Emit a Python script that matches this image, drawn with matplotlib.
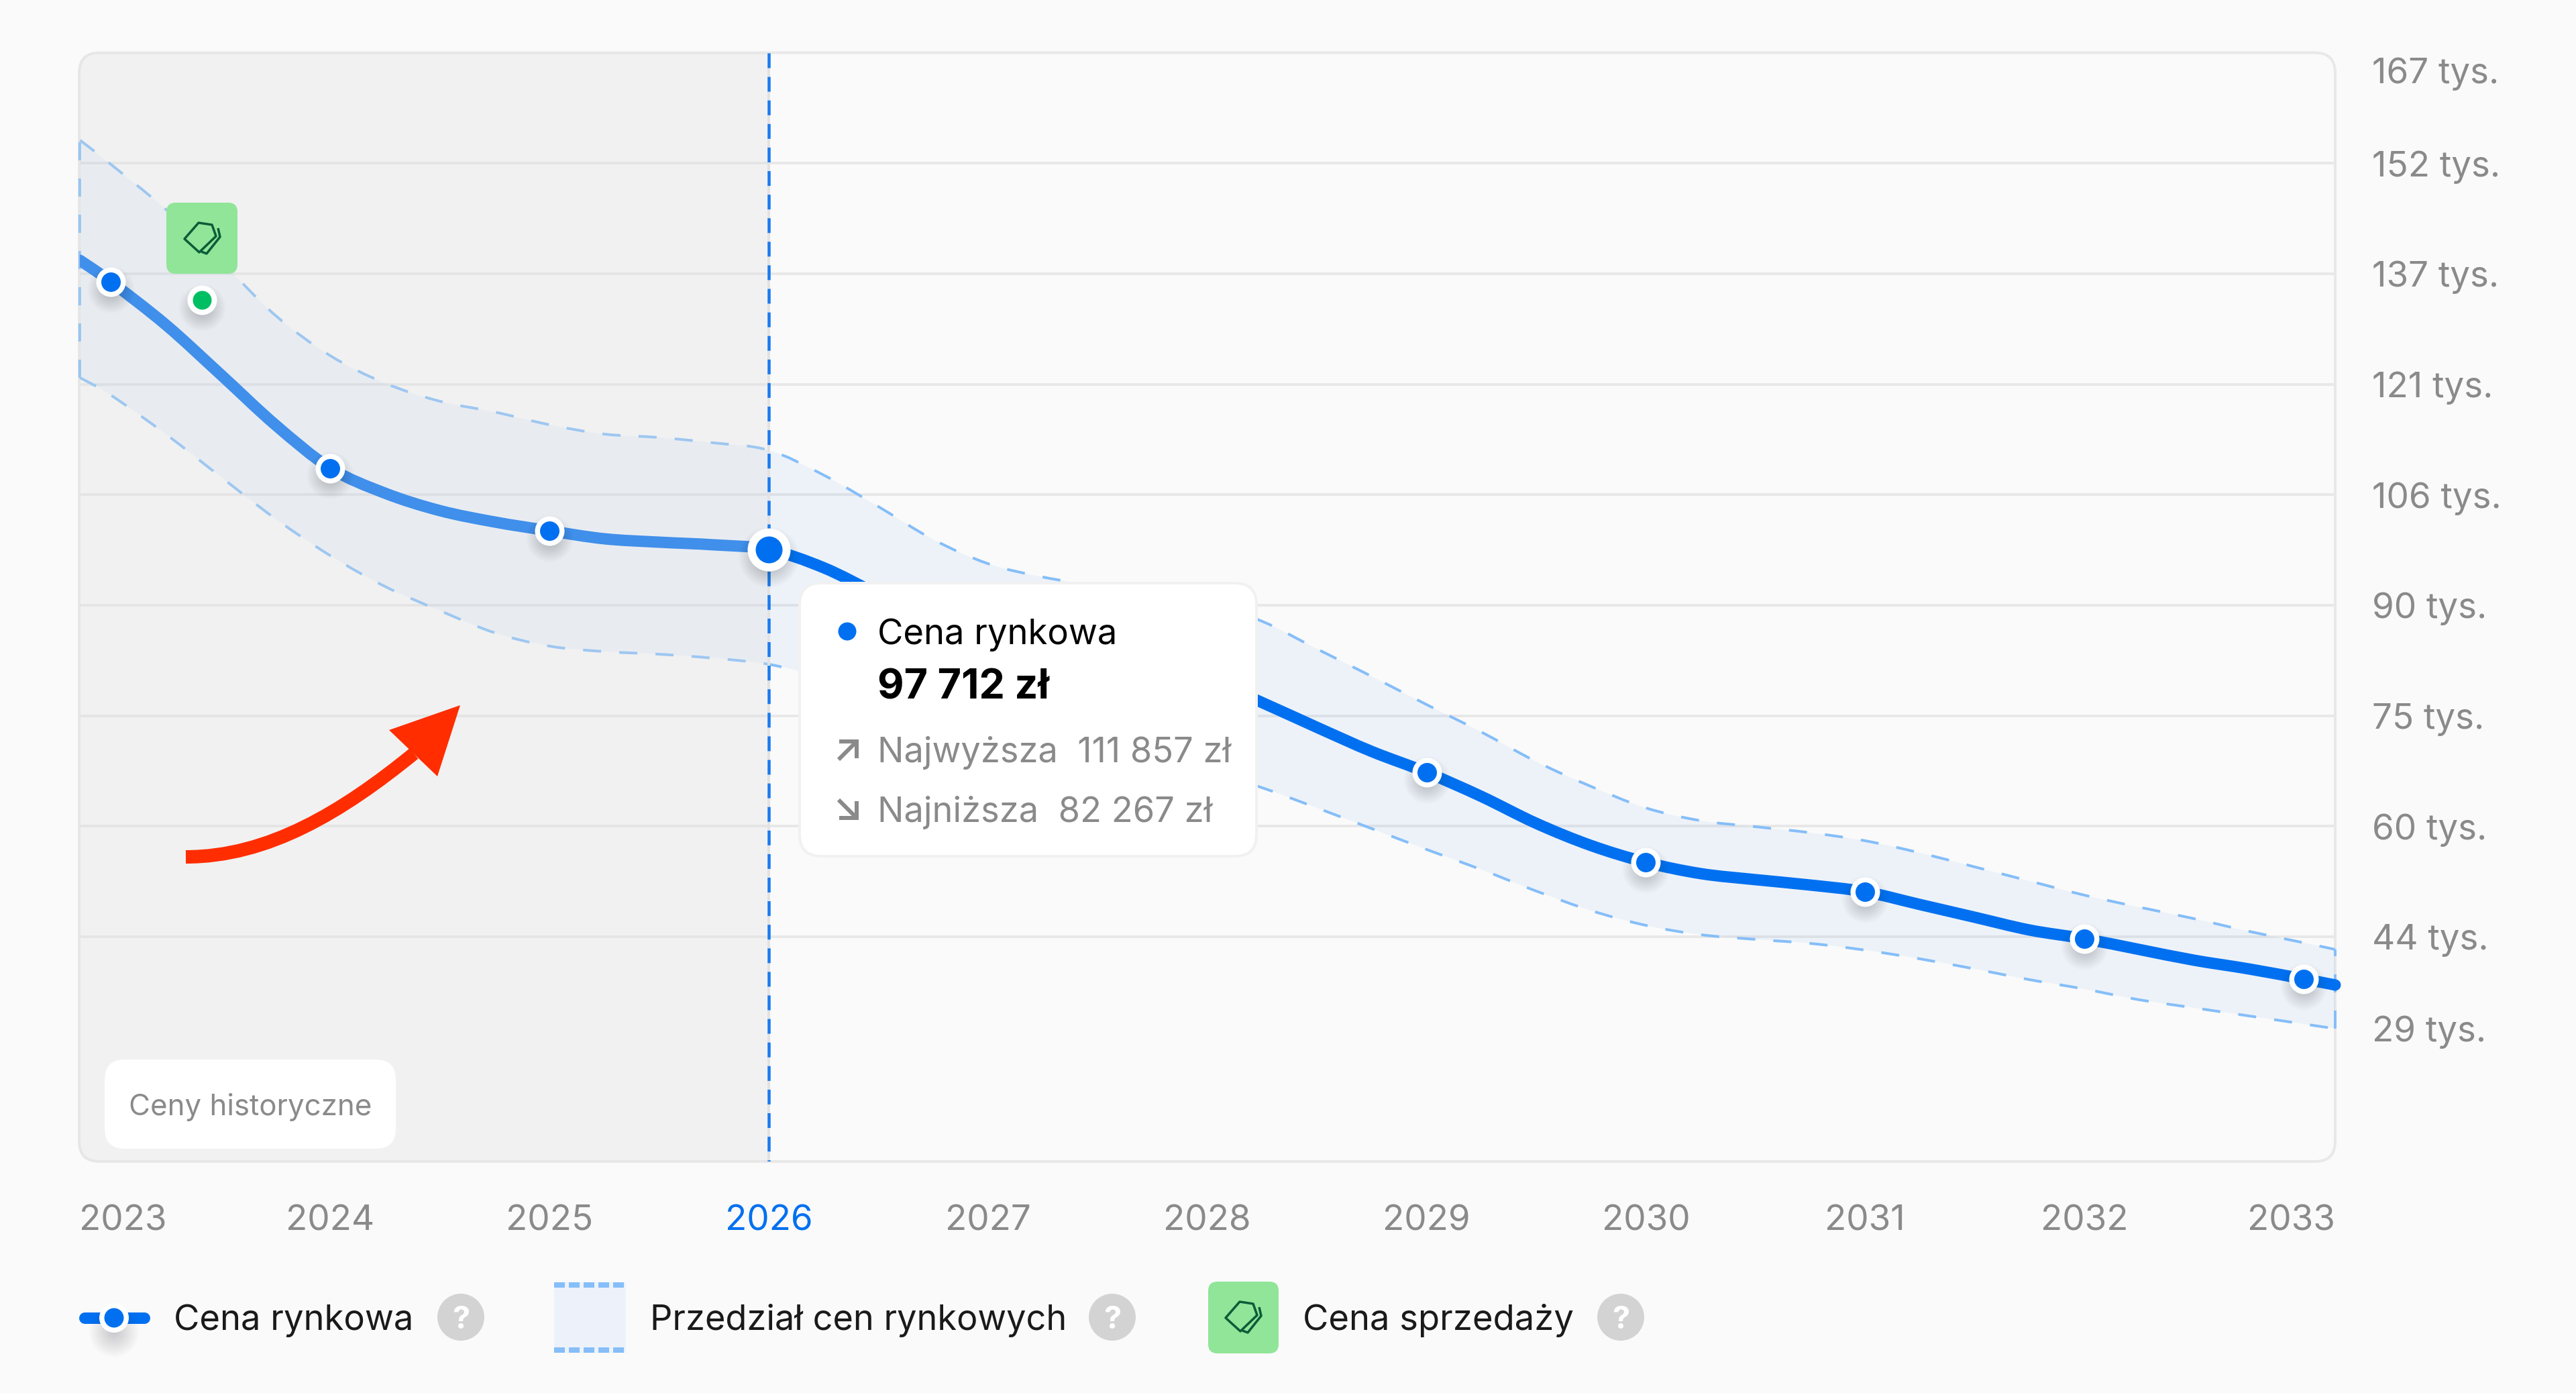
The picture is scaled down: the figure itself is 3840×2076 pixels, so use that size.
# %% imports
import numpy as np
import matplotlib
matplotlib.use("Agg")
import matplotlib.pyplot as plt
from matplotlib.patches import FancyBboxPatch, PathPatch, Polygon, Rectangle, Circle
from matplotlib.path import Path
from matplotlib.transforms import Affine2D

plt.rcParams['font.family'] = ['Inter', 'DejaVu Sans']

# %% data, prices in thousands of zl
years = [2022.859, 2023, 2023.25, 2023.5, 2023.75, 2024, 2024.25, 2024.5, 2024.75,
         2025, 2025.25, 2025.5, 2025.75, 2026, 2026.25, 2026.5, 2026.75,
         2027, 2027.25, 2027.5, 2027.75, 2028, 2028.25, 2028.5, 2028.75,
         2029, 2029.25, 2029.5, 2029.75, 2030, 2030.25, 2030.5, 2030.75,
         2031, 2031.25, 2031.5, 2031.75, 2032, 2032.25, 2032.5, 2032.75,
         2033, 2033.144]
market = [138.43, 135.46, 129.50, 122.60, 115.60, 109.61, 106.12, 103.70, 102.12,
          100.90, 99.79, 99.32, 98.95, 98.30, 95.78, 92.06, 88.43,
          86.10, 84.51, 83.21, 82.00, 80.32, 77.06, 73.62, 70.27,
          67.38, 64.03, 60.30, 57.22, 54.90, 53.32, 52.48, 51.73,
          50.80, 49.03, 47.26, 45.49, 44.28, 42.79, 41.30, 40.09,
          38.70, 37.86]
upper = [155.11, 151.75, 145.51, 138.34, 130.80, 125.21, 121.39, 118.88, 117.39,
         115.62, 114.32, 113.85, 113.10, 112.08, 108.64, 104.26, 99.69,
         96.34, 94.48, 93.27, 92.43, 90.85, 88.34, 84.51, 80.69,
         76.78, 72.97, 68.87, 65.42, 62.44, 60.67, 59.83, 59.00,
         57.88, 56.20, 54.25, 52.29, 50.33, 48.66, 47.07, 45.31,
         43.73, 42.79]
lower = [122.14, 119.72, 114.32, 108.40, 102.58, 97.46, 93.17, 89.82, 86.75,
         84.89, 84.14, 83.77, 83.21, 82.37, 80.51, 78.37, 76.32,
         74.18, 72.41, 70.82, 69.24, 67.56, 65.24, 62.44, 59.56,
         56.67, 53.88, 50.90, 48.19, 46.14, 44.84, 44.19, 43.63,
         42.70, 41.49, 40.09, 38.60, 37.30, 35.81, 34.69, 33.57,
         32.45, 31.80]
point_years = [2023, 2024, 2025, 2027, 2028, 2029, 2030, 2031, 2032, 2033]
current_year = 2026
sale_year = [2023.416]
sale_price = [132.94]

grid_values = [151.9, 136.6, 121.2, 105.9, 90.6, 75.2, 59.9, 44.6]
ytick_values = [164.8, 151.9, 136.6, 121.2, 105.9, 90.6, 75.2, 59.9, 44.6, 31.8]
ytick_labels = ['167 tys.', '152 tys.', '137 tys.', '121 tys.', '106 tys.',
                '90 tys.', '75 tys.', '60 tys.', '44 tys.', '29 tys.']
xtick_values = [2022.855, 2024, 2025, 2026, 2027, 2028, 2029, 2030, 2031, 2032, 2033.144]
xtick_labels = ['2023', '2024', '2025', '2026', '2027', '2028', '2029', '2030',
                '2031', '2032', '2033']

# %% colours
BG = '#FAFAFA'
BLUE = '#0070F0'
DASH = '#85BEF8'
GRID = '#E8E8E8'
GREY = '#8A8A8A'
INK = '#1A1A1A'
GREEN_BOX = '#90E598'
GREEN_DOT = '#00BF63'
GREEN_INK = '#0B5C38'
RED = '#FF2D00'

# %% figure, one point is 1/0.72 px at dpi 100
W, H = 3840, 2076
fig = plt.figure(figsize=(W / 100, H / 100), dpi=100, facecolor=BG)
px = Affine2D().scale(1, -1).translate(0, H)  # reference pixels, y down


def pt(p):
    return p * 0.72


L, R, T, B = 118, 3481, 78.6, 1731
ax = fig.add_axes([L / W, 1 - B / H, (R - L) / W, (B - T) / H], facecolor='none')
ax.set_xlim(2022.859, 2033.144)
ax.set_ylim(13.36, 167.25)
for s in ax.spines.values():
    s.set_visible(False)


def smooth(x, y):
    # catmull-rom through the read values, only to round the corners
    x, y = np.asarray(x), np.asarray(y)
    verts = [(x[0], y[0])]
    codes = [Path.MOVETO]
    n = len(x)
    for i in range(n - 1):
        a, b, c, d = max(i - 1, 0), i, i + 1, min(i + 2, n - 1)
        verts.append((x[b] + (x[c] - x[a]) / 6, y[b] + (y[c] - y[a]) / 6))
        verts.append((x[c] - (x[d] - x[b]) / 6, y[c] - (y[d] - y[b]) / 6))
        verts.append((x[c], y[c]))
        codes += [Path.CURVE4] * 3
    return Path(verts, codes)


def rbox(x0, y0, x1, y1, r, **kw):
    return FancyBboxPatch((x0, y0), x1 - x0, y1 - y0,
                          boxstyle=f'round,pad=0,rounding_size={r}',
                          transform=px, **kw)


def label(x, y, s, size, color=INK, weight='normal', ha='left', zorder=8):
    fig.text(x, y, s, transform=px, fontsize=pt(size), color=color,
             fontweight=weight, ha=ha, va='baseline', zorder=zorder)


# %% grid and frame
ax.hlines(grid_values, years[0], years[-1], color=GRID, lw=pt(4), zorder=1)
ax.add_patch(rbox(L, T, R, B, 30, fc='none', ec=GRID, lw=pt(4), zorder=1.5, clip_on=False))

# %% band
up_path = smooth(years, upper)
lo_path = smooth(years, lower)
band_v = np.vstack([up_path.vertices, lo_path.vertices[::-1], up_path.vertices[:1]])
band_c = list(up_path.codes) + [Path.LINETO] + list(lo_path.codes[1:]) + [Path.LINETO]
ax.add_patch(PathPatch(Path(band_v, band_c), fc=BLUE, alpha=0.05, ec='none', zorder=2))
dash = dict(fc='none', ec=DASH, lw=pt(4), linestyle=(0, (6.75, 6.75)), capstyle='butt', zorder=2.5)
ax.add_patch(PathPatch(up_path, **dash))
ax.add_patch(PathPatch(lo_path, **dash))
ax.vlines([years[0], years[-1]], [lower[0], lower[-1]], [upper[0], upper[-1]],
          color=DASH, lw=pt(4), linestyle=(0, (6.75, 6.75)), zorder=2.5, clip_on=False)

# %% market price line, may stick out on the right
line = PathPatch(smooth(years, market), fc='none', ec=BLUE, lw=pt(17), capstyle='round', zorder=3)
ax.add_patch(line)
line.set_clip_path(Rectangle((years[0], 13.36), 10.4, 153.89, transform=ax.transData))

# %% history overlay greys what lies under it
shade = rbox(L, T, 1147 + 60, B, 30, fc=(222 / 255, 222 / 255, 222 / 255, 0.29), ec='none', zorder=4)
ax.add_patch(shade)
shade.set_clip_path(Rectangle((L, T), 1146 - L, B - T, transform=px))

# %% current year line
ax.vlines(current_year, 167.25, 13.36, color='#E2E2E2', lw=pt(4), zorder=4.2)
ax.vlines(current_year, 167.25, 13.36, color='#1A7BEF', lw=pt(4.5), linestyle=(0, (4.9, 2.9)), zorder=4.3)


# %% markers
def dots(x, y, outer, inner, color, z=6):
    x, y = np.asarray(x, float), np.asarray(y, float)
    for k in range(14):
        ax.scatter(x, y - 1.0, s=pt(outer + 26 - 3.4 * k) ** 2, color='#30384A', alpha=0.016,
                   lw=0, zorder=z - 0.5, clip_on=False)
    ax.scatter(x, y, s=pt(outer) ** 2, color='white', lw=0, zorder=z, clip_on=False)
    ax.scatter(x, y, s=pt(inner) ** 2, color=color, lw=0, zorder=z + 0.1, clip_on=False)


yr = np.array(years)
mk = np.array(market)
idx = np.isin(yr, point_years)
dots(yr[idx], mk[idx], 44, 29, BLUE)
dots([current_year], mk[yr == current_year], 64, 40, BLUE)
dots(sale_year, sale_price, 44, 28, GREEN_DOT)

# %% axes ticks
ax.set_xticks(xtick_values, xtick_labels)
ax.yaxis.tick_right()
ax.set_yticks(ytick_values, ytick_labels)
ax.tick_params(axis='x', length=0, pad=pt(103), labelsize=pt(53), labelcolor=GREY)
ax.tick_params(axis='y', length=0, pad=pt(55), labelsize=pt(53), labelcolor=GREY)
for t in ax.get_xticklabels():
    t.set_va('baseline')
ax.get_xticklabels()[0].set_ha('left')
ax.get_xticklabels()[-1].set_ha('right')
ax.get_xticklabels()[3].set_color(BLUE)
for t in ax.get_yticklabels():
    t.set_va('center_baseline')


# %% ui pieces on top of the chart
def add(p, z=7):
    p.set_zorder(z)
    fig.add_artist(p)
    return p


def tag(cx, cy, lw=3.5):
    pts = [(-26, 1), (-5, -23), (15, -20), (21, -3), (-4, 21)]
    add(Polygon([(cx + a, cy + b) for a, b in pts], closed=True, fc='none', ec=GREEN_INK,
                lw=pt(lw), joinstyle='round', transform=px), 8)
    back = [(24, -15), (27, -2), (7, 23), (-1, 20)]
    verts = [(cx + a, cy + b) for a, b in back]
    add(PathPatch(Path(verts), fc='none', ec=GREEN_INK, lw=pt(lw), joinstyle='round', transform=px), 8)


def help_dot(cx, cy):
    add(Circle((cx, cy), 35, fc='#D3D3D3', ec='none', transform=px))
    label(cx, cy + 17, '?', 47, color='white', weight='bold', ha='center')


# sale price tag
add(rbox(248, 302, 354, 408, 14, fc=GREEN_BOX, ec='none'))
tag(301, 355)

# red arrow
shaft = Path([(277, 1277), (400, 1277), (510, 1210), (617, 1123)],
             [Path.MOVETO, Path.CURVE4, Path.CURVE4, Path.CURVE4])
add(PathPatch(shaft, fc='none', ec=RED, lw=pt(20), capstyle='butt', transform=px))
add(Polygon([(686, 1051), (580, 1088), (652, 1157)], closed=True, fc=RED, ec='none', transform=px))

# history pill
add(rbox(156, 1579, 590, 1712, 30, fc='white', ec='none'))
label(192, 1662, 'Ceny historyczne', 43.8, color=GREY)

# tooltip
add(rbox(1192, 869, 1873, 1276, 32, fc='white', ec='#F1F1F1', lw=pt(4)))
add(Circle((1263, 941), 13.5, fc=BLUE, ec='none', transform=px))
label(1308, 960, 'Cena rynkowa', 52.6, color='black')
label(1308, 1042, '97 712 zł', 61, color='black', weight='bold')
label(1308, 1136, 'Najwyższa  111 857 zł', 52.4, color=GREY)
label(1308, 1225, 'Najniższa  82 267 zł', 52.4, color=GREY)
arrow_kw = dict(fc='none', ec=GREY, lw=pt(6), joinstyle='miter', capstyle='butt', transform=px)
add(PathPatch(Path([(1250, 1132), (1277, 1105)]), **arrow_kw), 8)
add(PathPatch(Path([(1251, 1105), (1277, 1105), (1277, 1130)]), **arrow_kw), 8)
add(PathPatch(Path([(1250, 1192), (1277, 1219)]), **arrow_kw), 8)
add(PathPatch(Path([(1251, 1219), (1277, 1219), (1277, 1194)]), **arrow_kw), 8)

# legend
add(PathPatch(Path([(126, 1964), (215, 1964)]), fc='none', ec=BLUE, lw=pt(17), capstyle='round',
              transform=px))
for k in range(12):
    add(Circle((170, 1985), 37 - 3 * k, fc='#30384A', alpha=0.018, ec='none', transform=px), 7.1)
add(Circle((170, 1964), 22, fc='white', ec='none', transform=px), 7.2)
add(Circle((170, 1964), 14.5, fc=BLUE, ec='none', transform=px), 7.3)
label(259, 1982, 'Cena rynkowa', 52.6)
help_dot(687, 1963)

add(Rectangle((826, 1911), 107, 105, fc='#EDF2FA', ec='none', transform=px))
for x0 in [826, 848, 870, 892, 914]:
    add(Rectangle((x0, 1911), 16, 8, fc=DASH, ec='none', transform=px), 7.1)
    add(Rectangle((x0, 2008), 16, 8, fc=DASH, ec='none', transform=px), 7.1)
label(969, 1982, 'Przedział cen rynkowych', 52.3)
help_dot(1658, 1963)

add(rbox(1801, 1910, 1906, 2017, 14, fc=GREEN_BOX, ec='none'))
tag(1853, 1963)
label(1942, 1982, 'Cena sprzedaży', 52.6)
help_dot(2416, 1963)

# %% save
fig.savefig('out.png', dpi=100, facecolor=BG)
